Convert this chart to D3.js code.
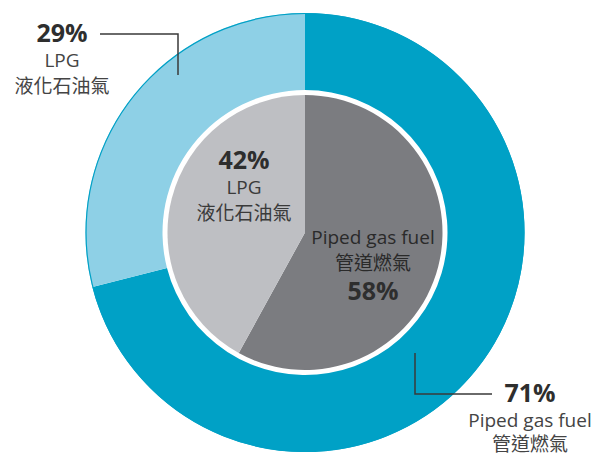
<!DOCTYPE html>
<html><head><meta charset="utf-8">
<script src="https://cdn.jsdelivr.net/npm/d3@7"></script>
<style>
html,body{margin:0;padding:0;background:#fff;}
svg{display:block;}
text{font-family:"Open Sans","Noto Sans CJK TC",sans-serif;}
</style></head>
<body>
<script>
// Data
const categoriesEn = ["Piped gas fuel", "LPG"];
const categoriesZh = ["管道燃氣", "液化石油氣"];
const outerValues = [71, 29];
const innerValues = [58, 42];
const outerColors = ["#00a1c6", "#8ed0e6"];
const innerColors = ["#7b7c80", "#bebfc3"];

const W = 597, H = 456;
const cx = 305, cy = 232.5;
const rOuter = 219.5, rOuterIn = 142.5, rInner = 137.5;

const svg = d3.select("body").append("svg").attr("width", W).attr("height", H);
const g = svg.append("g").attr("transform", `translate(${cx},${cy})`);

const pie = d3.pie().sort(null).value(d => d);

const outerArc = d3.arc().innerRadius(rOuterIn).outerRadius(rOuter);
g.selectAll("path.outer").data(pie(outerValues)).enter().append("path")
  .attr("class", "outer").attr("d", outerArc)
  .attr("fill", (d, i) => outerColors[i]);
// thin outline on outer edge
g.append("circle").attr("r", rOuter - 0.5).attr("fill", "none")
  .attr("stroke", outerColors[0]).attr("stroke-width", 1.2);

const innerArc = d3.arc().innerRadius(0).outerRadius(rInner);
g.selectAll("path.inner").data(pie(innerValues)).enter().append("path")
  .attr("class", "inner").attr("d", innerArc)
  .attr("fill", (d, i) => innerColors[i]);

// leader lines
const lineColor = "#3a3a3a";
svg.append("path").attr("d", "M100,34H178V75").attr("fill", "none")
  .attr("stroke", lineColor).attr("stroke-width", 1.5);
svg.append("path").attr("d", "M415,353V394H492").attr("fill", "none")
  .attr("stroke", lineColor).attr("stroke-width", 1.5);

function label(x, yPct, pct, en, zh, pctFirst, txtColor, gap2) {
  const t = svg.append("g").attr("text-anchor", "middle");
  const lines = pctFirst
    ? [[pct, yPct, true], [en, yPct + 25, false], [zh, yPct + gap2, false]]
    : [[en, yPct, false], [zh, yPct + 26, false], [pct, yPct + 56, true]];
  lines.forEach(([s, y, bold]) => {
    t.append("text").attr("x", x).attr("y", y).text(s)
      .attr("font-size", bold ? 25 : 19)
      .attr("font-weight", bold ? 700 : 400)
      .attr("fill", bold ? "#2e2e2e" : txtColor);
  });
}
label(62, 42, outerValues[1] + "%", categoriesEn[1], categoriesZh[1], true, "#444", 51);
label(530, 402, outerValues[0] + "%", categoriesEn[0], categoriesZh[0], true, "#444", 49);
label(244, 169, innerValues[1] + "%", categoriesEn[1], categoriesZh[1], true, "#3a3a3a", 51);
label(373, 244, innerValues[0] + "%", categoriesEn[0], categoriesZh[0], false, "#2a2a2a", 51);
</script>
</body></html>
